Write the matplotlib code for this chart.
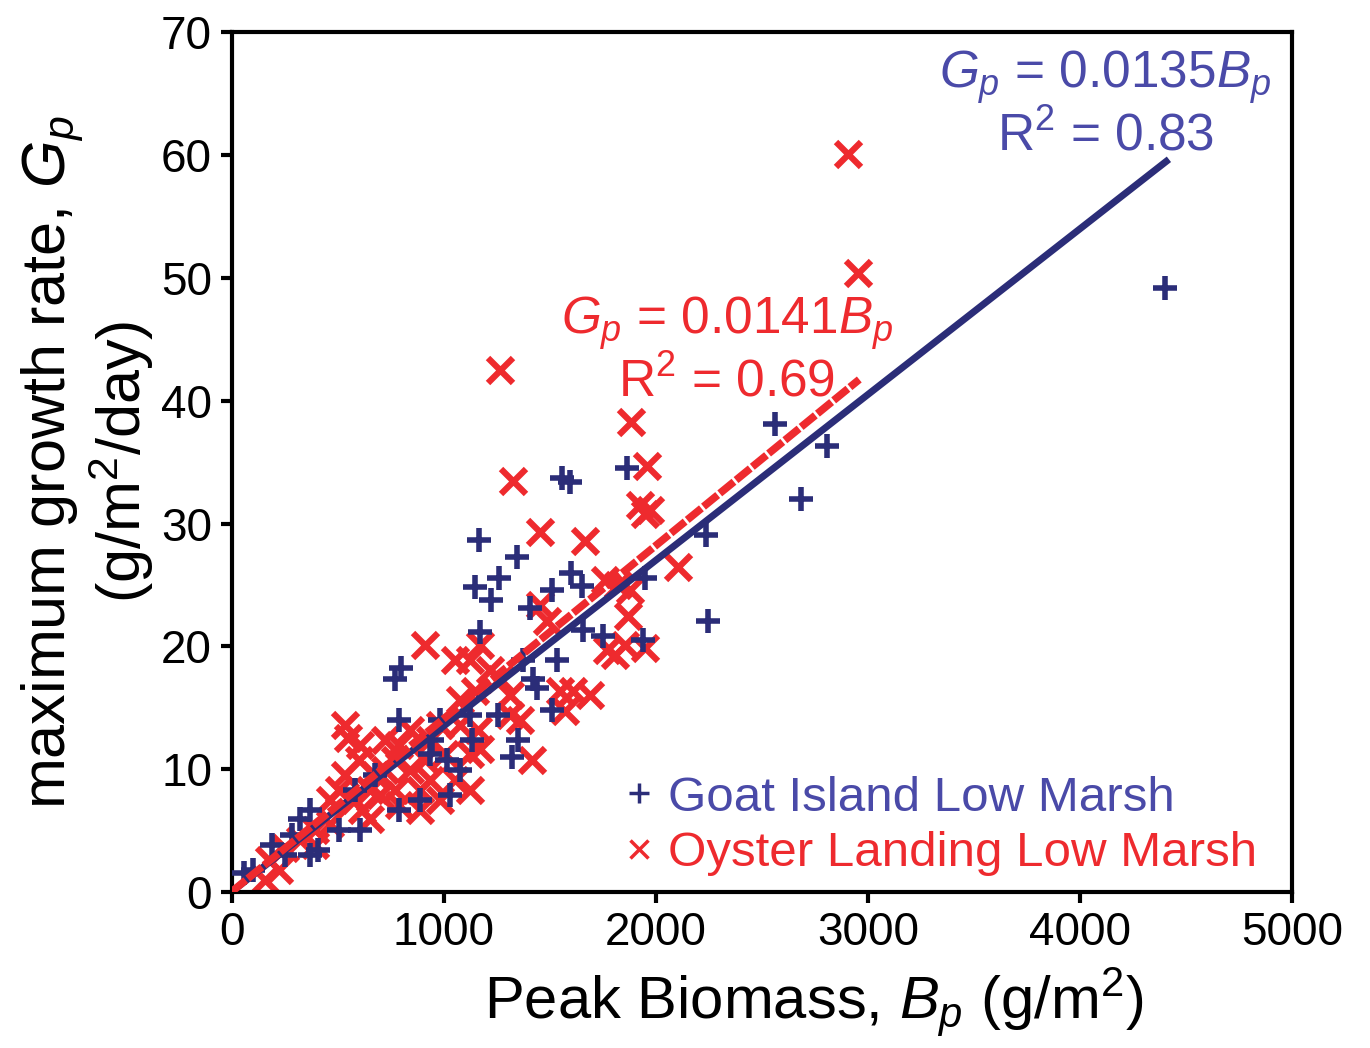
import numpy as np
import matplotlib
matplotlib.use("Agg")
import matplotlib.pyplot as plt
from matplotlib.lines import Line2D

plt.rcParams['font.family'] = ['Liberation Sans', 'DejaVu Sans']
plt.rcParams['mathtext.fontset'] = 'custom'
plt.rcParams['mathtext.rm'] = 'Liberation Sans'
plt.rcParams['mathtext.it'] = 'Liberation Sans:italic'

# Goat Island Low Marsh (+)
goat_x = [4401, 2561, 2807, 2684, 2245, 2236, 1863, 1557, 1594, 1165, 1344, 1146,
          1259, 1222, 1599, 1651, 1509, 1948, 1656, 1406, 1750, 1939, 1170, 1533,
          1420, 1439, 797, 769, 792, 1255, 1321, 1349, 1132, 981, 934, 1014, 368,
          321, 283, 193, 99, 61, 368, 406, 250, 509, 604, 580, 887, 792, 1028,
          1075, 675, 943, 1123, 1373, 1509]
goat_y = [49.2, 38.1, 36.3, 32.0, 22.1, 29.1, 34.5, 33.7, 33.4, 28.7, 27.3, 24.8,
          25.6, 23.8, 26.0, 24.9, 24.6, 25.6, 21.3, 23.1, 20.8, 20.5, 21.2, 18.9,
          17.3, 16.6, 18.2, 17.3, 14.0, 14.4, 11.0, 12.4, 12.4, 14.0, 11.2, 10.7, 6.7,
          5.9, 4.6, 3.8, 1.8, 1.5, 3.0, 3.4, 3.0, 5.0, 5.0, 8.3, 7.5, 6.7, 7.9,
          9.9, 9.5, 12.4, 14.4, 18.9, 14.8]

# Oyster Landing Low Marsh (x)
oyster_x = [2906, 2953, 1264, 1882, 1958, 1325, 1453, 1665, 1925, 1972, 1948, 2104,
            1759, 1877, 1821, 1868, 1769, 1806, 1948, 1854, 1608, 1689, 1571, 1547,
            1486, 1453, 1170, 1052, 910, 1217, 1146, 1264, 1311, 1123, 1075, 1358,
            1311, 1415, 1170, 1123, 1123, 1005, 934, 981, 910, 792, 722, 840, 934,
            887, 769, 698, 792, 533, 547, 604, 599, 533, 509, 462, 580, 651, 675,
            613, 462, 392, 321, 250, 179, 156, 226, 392, 651, 722, 769, 840, 1075,
            1160, 1052, 981, 887]
oyster_y = [60.1, 50.4, 42.5, 38.3, 34.7, 33.5, 29.3, 28.6, 31.5, 31.1, 30.8, 26.5,
            25.4, 24.6, 25.0, 22.5, 19.7, 19.3, 19.9, 20.1, 16.4, 16.0, 14.7, 16.4,
            22.1, 23.4, 20.1, 18.9, 20.1, 18.1, 16.4, 17.3, 16.0, 18.9, 15.6, 14.0,
            14.4, 10.7, 11.6, 11.2, 8.3, 11.2, 12.4, 13.6, 10.7, 12.0, 12.4, 9.9, 9.1,
            8.3, 8.3, 7.9, 7.1, 13.6, 12.5, 12.0, 10.7, 9.5, 8.3, 7.5, 7.5, 8.3, 9.5,
            6.7, 5.5, 5.0, 4.2, 3.6, 2.6, 1.0, 1.8, 3.8, 5.9, 9.9, 10.7, 13.2, 13.6,
            13.2, 9.1, 7.5, 6.7]

goat_slope = 0.0135
oyster_slope = 0.0141
goat_xmax = 4420
oyster_xmax = 2960

navy = '#2b2d78'
blue_text = '#4a4aa8'
red = '#ee2a2e'

fig = plt.figure(figsize=(13.7, 10.48), dpi=100)
ax = fig.add_axes([0.169, 0.149, 0.774, 0.82])

ax.plot(goat_x, goat_y, linestyle='none', marker='+', ms=17, mew=4, color=navy, zorder=3)
ax.plot(oyster_x, oyster_y, linestyle='none', marker='x', ms=18, mew=4.5, color=red, zorder=2)

xg = np.array([0, goat_xmax])
ax.plot(xg, goat_slope * xg, color=navy, lw=5, zorder=4, solid_capstyle='butt')
xo = np.array([0, oyster_xmax])
ax.plot(xo, oyster_slope * xo, color=red, lw=5.5, ls=(0, (2.4, 0.35)), zorder=4)

ax.set_xlim(0, 5000)
ax.set_ylim(0, 70)
ax.set_xticks(np.arange(0, 5001, 1000))
ax.set_yticks(np.arange(0, 71, 10))
ax.tick_params(direction='out', length=8, width=3, labelsize=33, pad=6)
for s in ax.spines.values():
    s.set_linewidth(3)

ax.set_xlabel('Peak Biomass, $B_p$ (g/m$^2$)', fontsize=43, labelpad=8)
ax.xaxis.set_label_coords(0.549, -0.085)
ax.set_ylabel('maximum growth rate, $G_p$\n(g/m$^2$/day)', fontsize=44,
              labelpad=4, linespacing=1.0)

ax.text(0.824, 0.982, '$G_p$ = 0.0135$B_p$\nR$^2$ = 0.83', transform=ax.transAxes,
        ha='center', va='top', fontsize=37, color=blue_text, linespacing=1.15)
ax.text(0.467, 0.695, '$G_p$ = 0.0141$B_p$\nR$^2$ = 0.69', transform=ax.transAxes,
        ha='center', va='top', fontsize=37, color=red, linespacing=1.15)

handles = [Line2D([], [], ls='none', marker='+', ms=15, mew=2.5, color=navy),
           Line2D([], [], ls='none', marker='x', ms=13, mew=2.5, color=red)]
leg = ax.legend(handles, ['Goat Island Low Marsh', 'Oyster Landing Low Marsh'],
                loc='lower right', frameon=False, fontsize=35.5, handlelength=0.6,
                handletextpad=0.3, labelspacing=0.22, borderaxespad=0.0,
                bbox_to_anchor=(0.986, -0.005))
leg.get_texts()[0].set_color(blue_text)
leg.get_texts()[1].set_color(red)

fig.savefig('out.png', dpi=100)
